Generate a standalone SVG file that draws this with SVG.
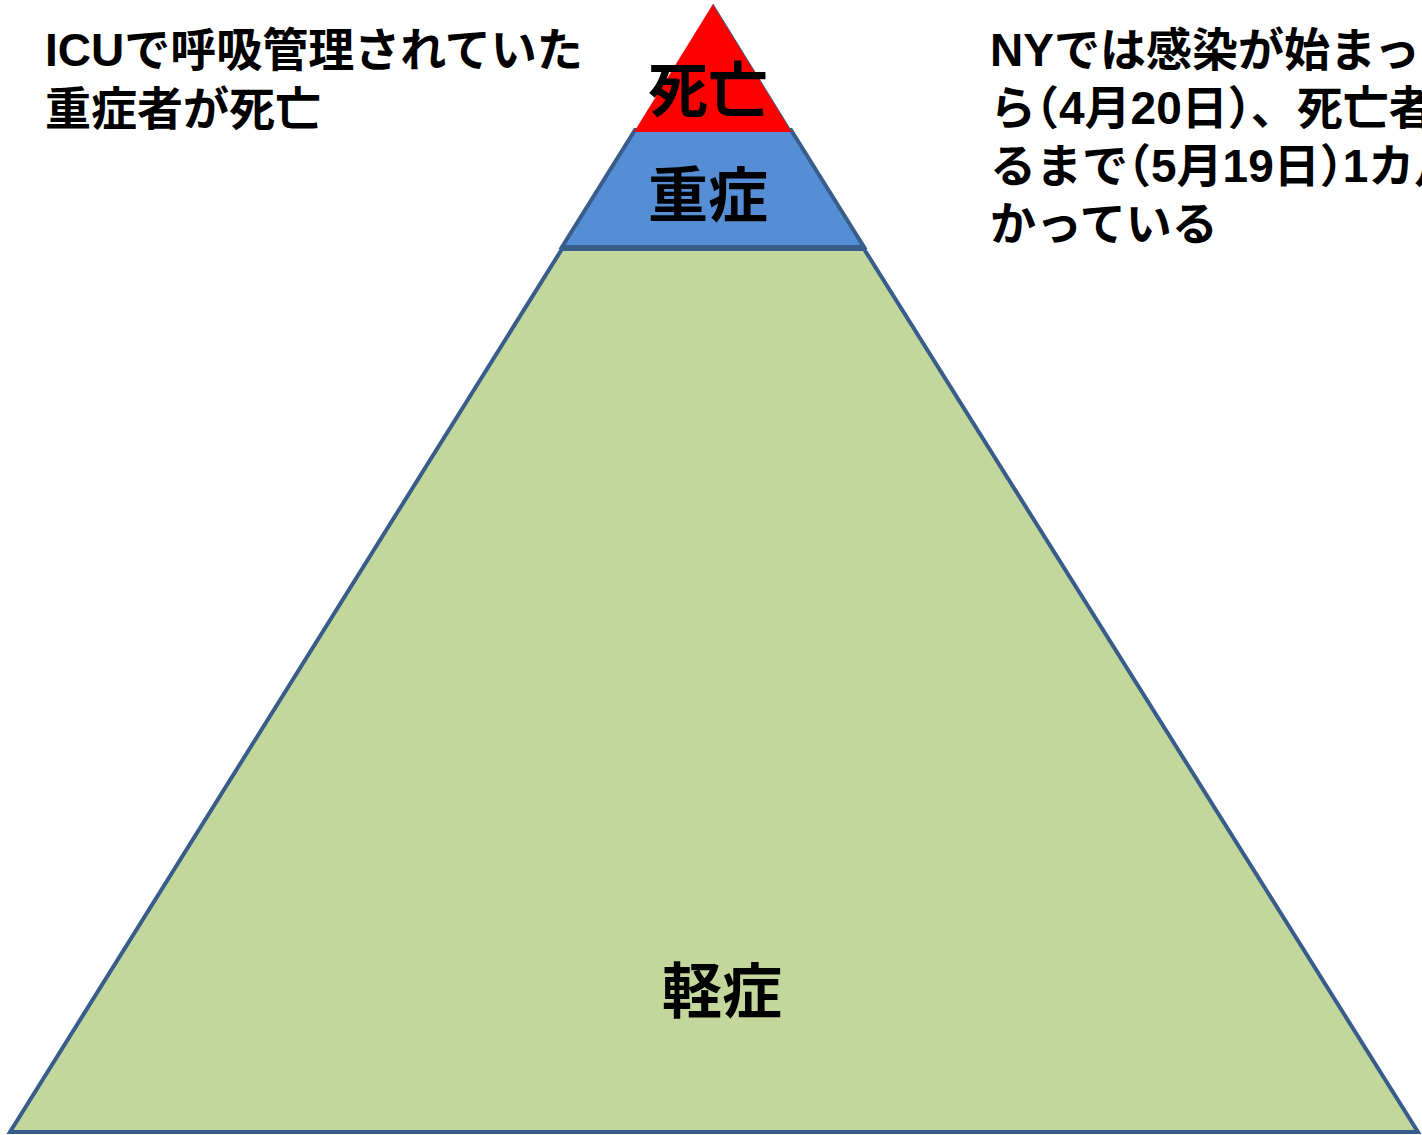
<svg xmlns="http://www.w3.org/2000/svg" width="1422" height="1135" viewBox="0 0 1422 1135">
<style>
.t{font-family:"Liberation Sans","Noto Sans CJK JP",sans-serif;font-weight:bold;fill:#000}
.note{font-size:46px}
.lbl{font-size:60px;text-anchor:middle}
.lvl{stroke:#385D8A;stroke-width:4;stroke-linejoin:miter}
.h{font-feature-settings:"halt"}
</style>
<rect width="1422" height="1135" fill="#fff"/>
<g id="mild">
<polygon class="lvl" points="562,249 864,249 1418,1132 10,1132" fill="#C3D69B"/>
<text class="t lbl" x="722" y="1013">軽症</text>
</g>
<g id="severe">
<polygon class="lvl" points="635,130 791,130 864,247 562,247" fill="#558ED5"/>
<text class="t lbl" x="708" y="217">重症</text>
</g>
<g id="death">
<polygon points="713,4 792,132 634,132" fill="#FF0000"/>
<line x1="713" y1="4" x2="792" y2="132" stroke="#385D8A" stroke-width="1"/>
<text class="t lbl" x="708" y="112">死亡</text>
</g>
<g id="connectors"></g>
<g id="note-left">
<text class="t note" x="45" y="66">ICUで呼吸管理されていた</text>
<text class="t note" x="45" y="125">重症者が死亡</text>
</g>
<g id="note-right">
<text class="t note" x="990" y="66">NYでは感染が始まっ</text>
<text class="t note" x="990" y="124">ら<tspan class="h">（</tspan>4月20日<tspan class="h">）</tspan>、死亡者</text>
<text class="t note" x="990" y="182">るまで<tspan class="h">（</tspan>5月19日<tspan class="h">）</tspan>1カ月</text>
<text class="t note" x="990" y="240">かっている</text>
</g>
</svg>
